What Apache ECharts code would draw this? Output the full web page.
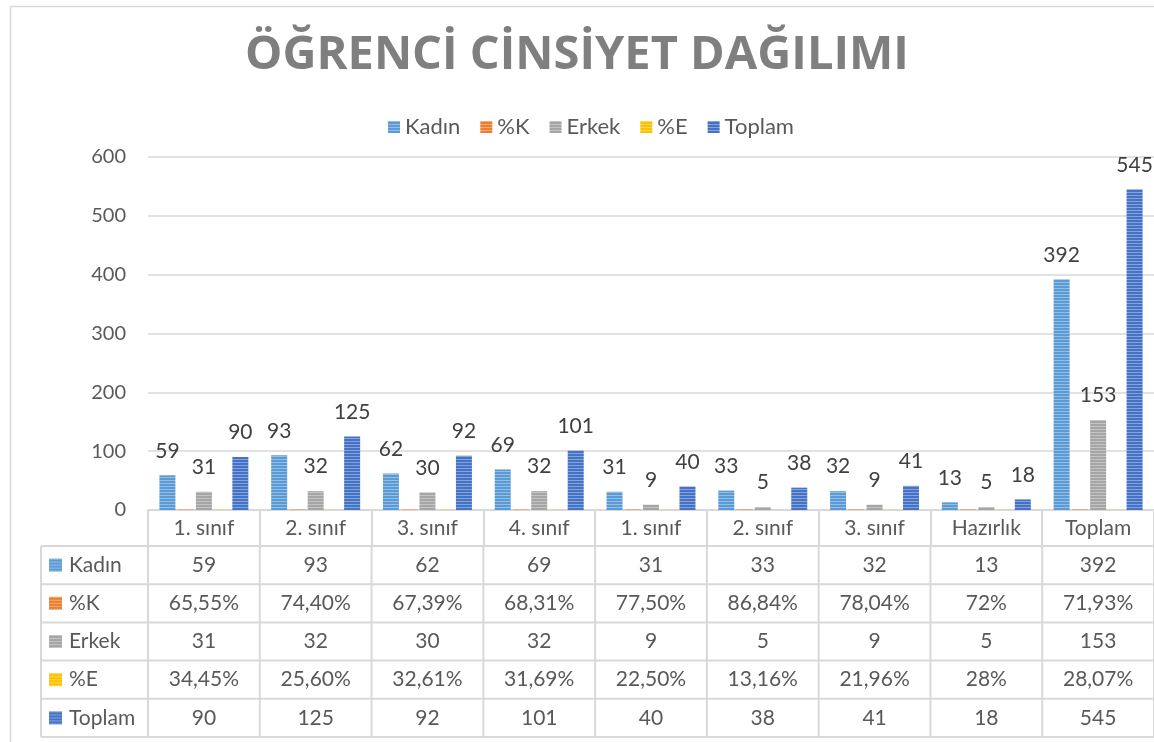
<!DOCTYPE html>
<html>
<head>
<meta charset="utf-8">
<script src="https://cdn.jsdelivr.net/npm/echarts@6/dist/echarts.min.js"></script>
<style>
  html, body { margin: 0; padding: 0; background: #fff; }
  #chart { width: 1154px; height: 742px; }
</style>
</head>
<body>
<div id="chart"></div>
<script>
var categories = ['1. sınıf', '2. sınıf', '3. sınıf', '4. sınıf', '1. sınıf', '2. sınıf', '3. sınıf', 'Hazırlık', 'Toplam'];
var seriesNames = ['Kadın', '%K', 'Erkek', '%E', 'Toplam'];
var kadin = [59, 93, 62, 69, 31, 33, 32, 13, 392];
var yuzdeK = [0.6555, 0.7440, 0.6739, 0.6831, 0.7750, 0.8684, 0.7804, 0.72, 0.7193];
var erkek = [31, 32, 30, 32, 9, 5, 9, 5, 153];
var yuzdeE = [0.3445, 0.2560, 0.3261, 0.3169, 0.2250, 0.1316, 0.2196, 0.28, 0.2807];
var toplam = [90, 125, 92, 101, 40, 38, 41, 18, 545];
var colors = ['#5b9bd5', '#ed7d31', '#a5a5a5', '#ffc000', '#4472c4'];

var FONT = 'Lato, "Noto Sans", sans-serif';
var gridLine = '#d9d9d9';
var textGray = '#595959';

// excel style narrow horizontal stripes
function stripes(color) {
  var c = document.createElement('canvas');
  c.width = 4;
  c.height = 3;
  var ctx = c.getContext('2d');
  ctx.fillStyle = color;
  ctx.fillRect(0, 0, 4, 3);
  ctx.fillStyle = 'rgba(255,255,255,0.35)';
  ctx.fillRect(0, 0, 4, 1);
  return c;
}
var patterns = colors.map(function(c) { return stripes(c); });

function fmtPct(v) {
  var p = Math.round(v * 10000) / 100;
  var s = (p % 1 === 0) ? String(p) : p.toFixed(2);
  return s.replace('.', ',') + '%';
}

function makeBar(name, data, idx, showLabel) {
  return {
    name: name,
    type: 'bar',
    data: data,
    barWidth: 16,
    barGap: '14%',
    itemStyle: { color: { image: patterns[idx], repeat: 'repeat' } },
    label: {
      show: showLabel,
      position: 'top',
      distance: 14,
      color: '#404040',
      fontSize: 21,
      fontFamily: FONT
    },
    emphasis: { disabled: true }
  };
}

var chart = echarts.init(document.getElementById('chart'));
chart.setOption({
  animation: false,
  backgroundColor: '#fff',
  title: {
    text: 'ÖĞRENCİ CİNSİYET DAĞILIMI',
    left: 'center',
    top: 27,
    textStyle: { fontFamily: '"Open Sans", sans-serif', fontWeight: 'bold', fontSize: 47, color: '#7f7f7f' }
  },
  legend: {
    top: 111,
    left: 383,
    itemWidth: 12,
    itemHeight: 12,
    itemGap: 20,
    icon: 'rect',
    selectedMode: false,
    textStyle: { fontFamily: FONT, fontSize: 22, color: textGray },
    data: seriesNames
  },
  grid: { left: 148, top: 157, width: 1013, height: 353, containLabel: false },
  xAxis: {
    type: 'category',
    data: categories,
    axisLine: { lineStyle: { color: gridLine, width: 2 } },
    axisTick: { show: true, interval: 0, length: 36, lineStyle: { color: gridLine, width: 2 } },
    axisLabel: { interval: 0, margin: 8, fontFamily: FONT, fontSize: 21, color: textGray }
  },
  yAxis: {
    type: 'value',
    min: 0,
    max: 600,
    interval: 100,
    axisLine: { show: false },
    axisTick: { show: false },
    splitLine: { lineStyle: { color: gridLine, width: 1.5 } },
    axisLabel: { margin: 22, fontFamily: FONT, fontSize: 20, color: textGray }
  },
  series: [
    makeBar('Kadın', kadin, 0, true),
    makeBar('%K', yuzdeK, 1, false),
    makeBar('Erkek', erkek, 2, true),
    makeBar('%E', yuzdeE, 3, false),
    makeBar('Toplam', toplam, 4, true)
  ]
});

// data table under the axis
function buildTable() {
  var c0 = chart.convertToPixel({ xAxisIndex: 0 }, 0);
  var c1 = chart.convertToPixel({ xAxisIndex: 0 }, 1);
  var step = c1 - c0;
  var left = c0 - step / 2;
  var right = left + step * categories.length;
  var yBase = chart.convertToPixel({ yAxisIndex: 0 }, 0);
  var headerH = 36;
  var rowH = 38.2;
  var keyLeft = 41;
  var top = yBase + headerH;
  var rows = [
    kadin.map(String),
    yuzdeK.map(fmtPct),
    erkek.map(String),
    yuzdeE.map(fmtPct),
    toplam.map(String)
  ];
  var els = [];
  var lineStyle = { stroke: gridLine, lineWidth: 2 };

  // outer chart border
  els.push({ type: 'rect', left: 8, top: 4, shape: { width: 1170, height: 760 },
    style: { fill: null, stroke: gridLine, lineWidth: 1.5 }, silent: true, z: 0 });

  for (var r = 0; r <= rows.length; r++) {
    var y = top + r * rowH;
    els.push({ type: 'line', shape: { x1: keyLeft, y1: y, x2: right, y2: y }, style: lineStyle, silent: true });
  }
  var bottom = top + rows.length * rowH;
  els.push({ type: 'line', shape: { x1: keyLeft, y1: top, x2: keyLeft, y2: bottom }, style: lineStyle, silent: true });
  for (var i = 0; i <= categories.length; i++) {
    var x = left + i * step;
    els.push({ type: 'line', shape: { x1: x, y1: top, x2: x, y2: bottom }, style: lineStyle, silent: true });
  }

  rows.forEach(function(vals, ri) {
    var cy = top + ri * rowH + rowH / 2;
    els.push({ type: 'rect', x: 49, y: cy - 6.5, shape: { width: 13, height: 13 },
      style: { fill: { image: patterns[ri], repeat: 'repeat' } }, silent: true });
    els.push({ type: 'text', x: 69, y: cy, silent: true,
      style: { text: seriesNames[ri], fill: textGray, font: '21px ' + FONT,
        align: 'left', verticalAlign: 'middle', textAlign: 'left', textVerticalAlign: 'middle' } });
    vals.forEach(function(v, ci) {
      els.push({ type: 'text', x: left + ci * step + step / 2, y: cy, silent: true,
        style: { text: v, fill: textGray, font: '21px ' + FONT,
          align: 'center', verticalAlign: 'middle', textAlign: 'center', textVerticalAlign: 'middle' } });
    });
  });
  chart.setOption({ graphic: { elements: els } });
}
buildTable();
</script>
</body>
</html>
